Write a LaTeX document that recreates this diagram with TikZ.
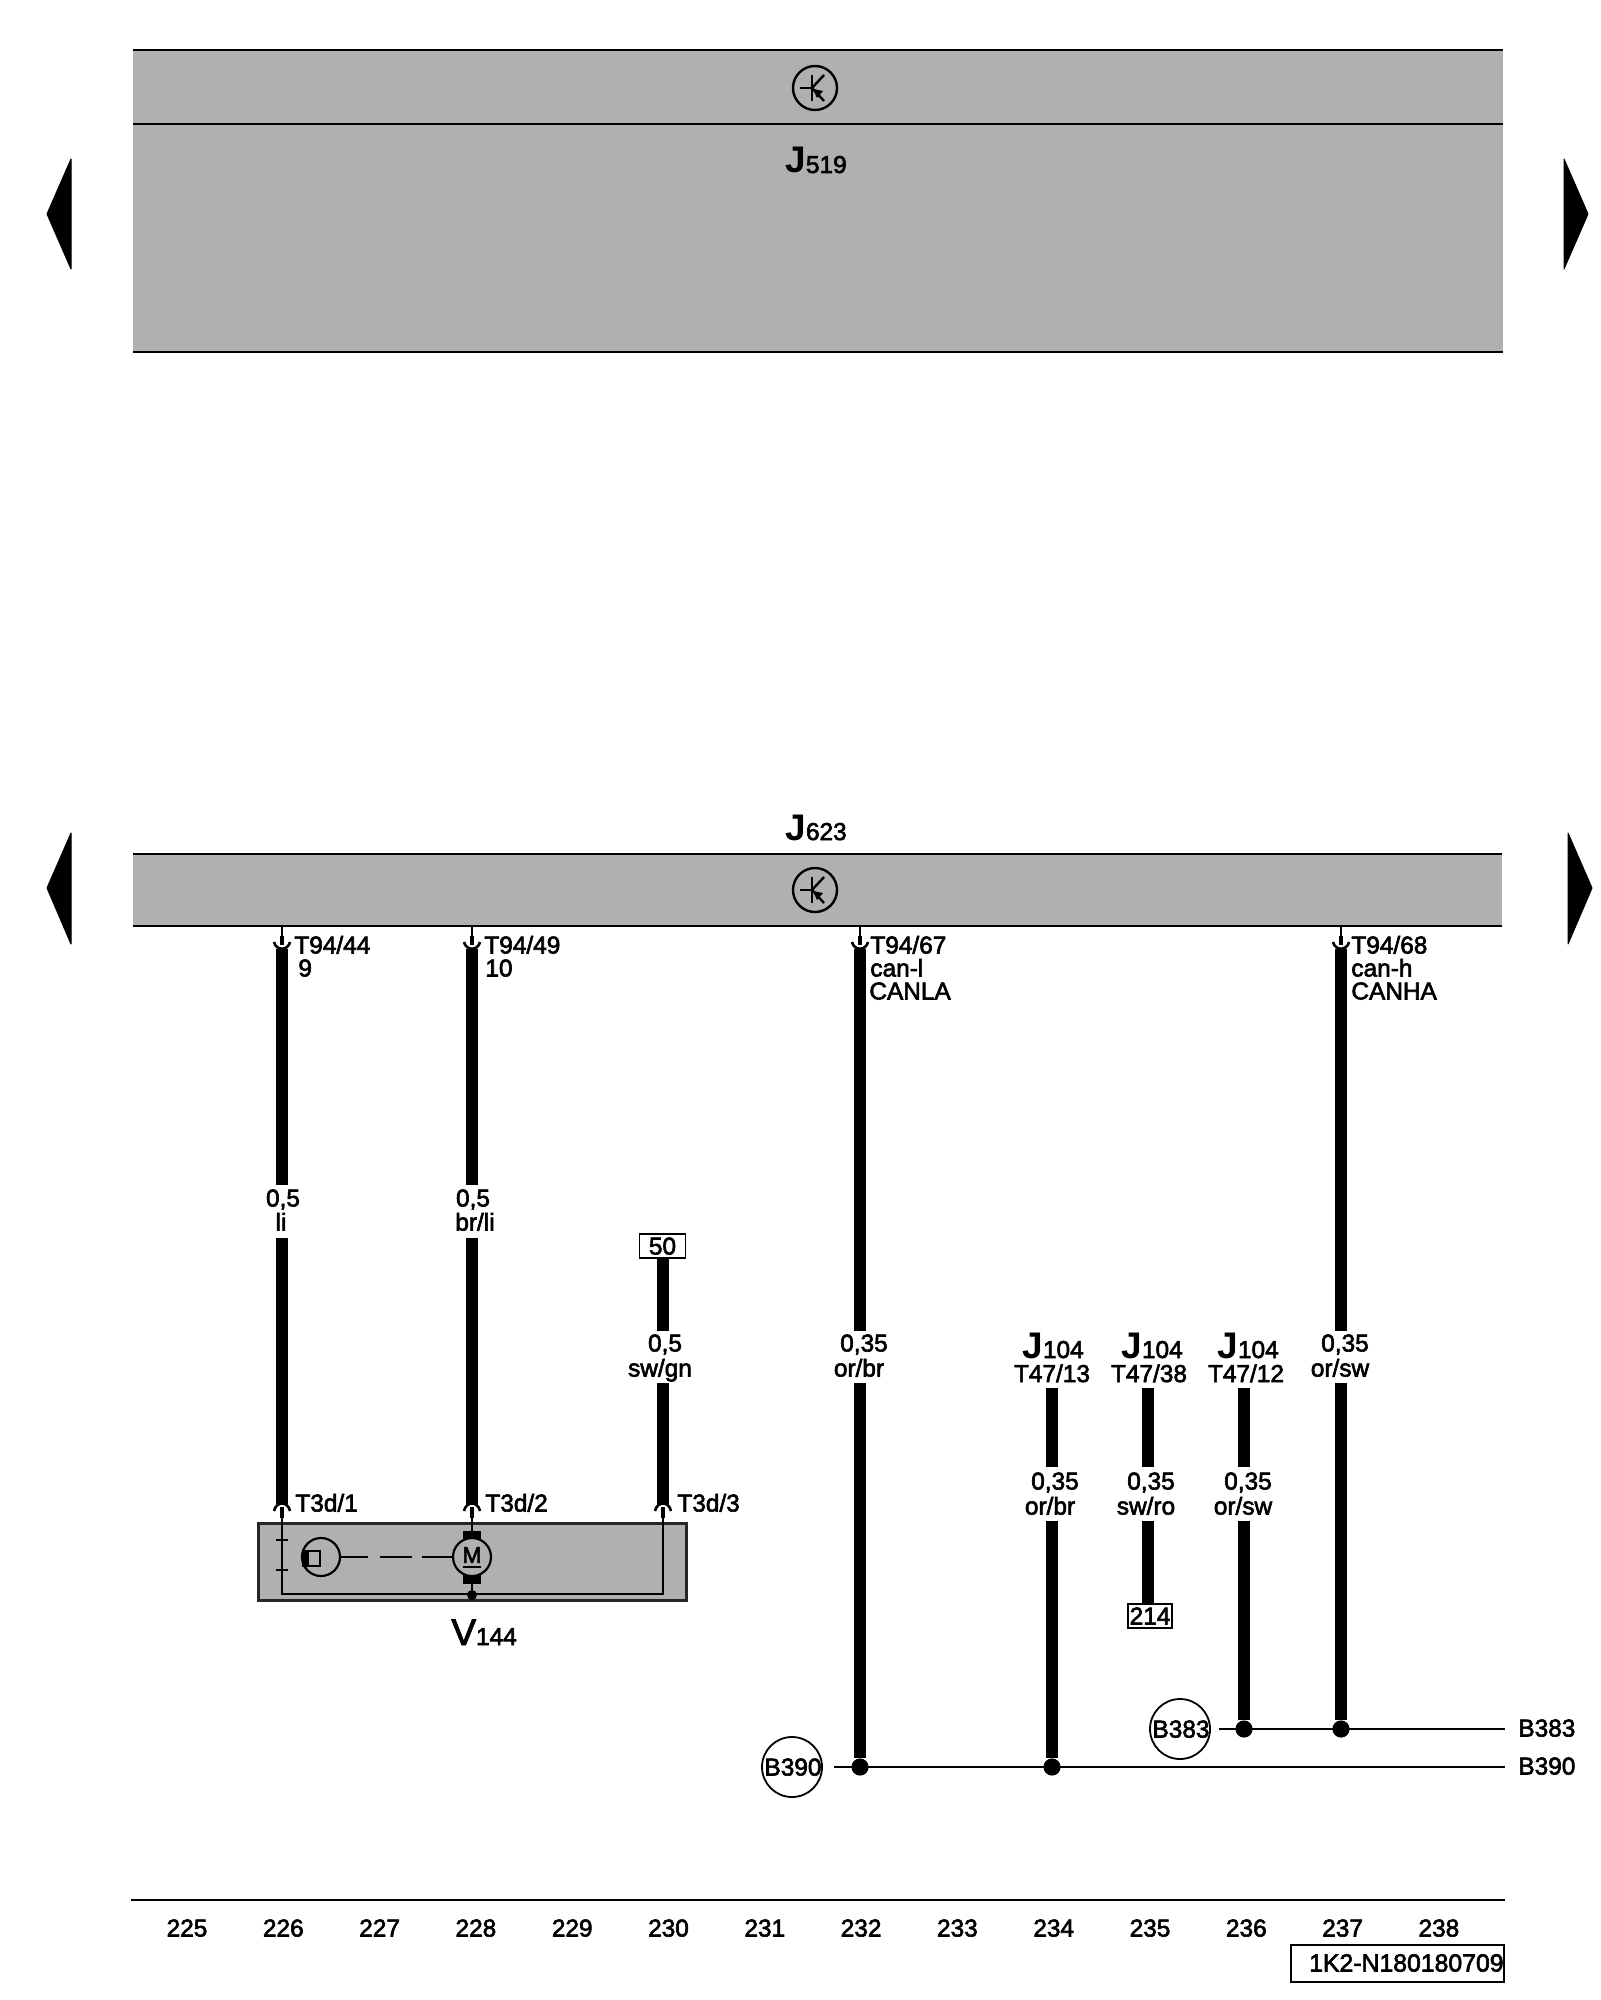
\documentclass[tikz,border=0pt]{standalone}
\usepackage{fontspec}
\setmainfont{Liberation Sans}[FakeBold=2.5,BoldFeatures={FakeBold=0}]
\definecolor{boxgrey}{HTML}{B0B0B0}
\tikzset{
  band/.style={fill=boxgrey,draw=none},
  rule/.style={line width=1.4pt,black},
  wire/.style={line width=6.4pt,black},
  thin/.style={line width=1.3pt,black},
  pin/.style={line width=2pt,black},
  cup/.style={line width=1.3pt,black},
  lab/.style={inner sep=0pt,text height=8.5pt,text depth=0pt,font=\fontsize{12.2}{12.2}\selectfont},
  ref/.style={lab,draw,line width=0.9pt,inner ysep=1.5pt,inner xsep=0pt},
  dotnode/.style={circle,fill=black,inner sep=0pt,minimum size=8.6pt},
  smalldot/.style={circle,fill=black,inner sep=0pt,minimum size=5pt},
  busring/.style={circle,draw,line width=0.9pt,inner sep=0pt,minimum size=30pt},
  ring/.style={circle,draw,line width=1.1pt,inner sep=0pt,minimum size=19pt},
  tips/.style={fill=black,draw=black,line width=0.5pt,line join=round},
  bigname/.style={inner sep=0pt,anchor=base west}
}
\newcommand{\bigsub}[2]{{\fontsize{18.5}{18.5}\selectfont #1}\fontsize{12.2}{12.2}\selectfont #2}
\newcommand{\topcap}[2]{%
  \coordinate (#2u) at (#1,926);
  \coordinate (#2p) at (#1,945);
  \coordinate (#2l) at (#1-8,942);
  \coordinate (#2r) at (#1+8,942);
  \draw[thin] (#2u) -- (#1,936);
  \draw[pin] (#1,936) -- (#2p);
  \draw[cup] (#2l) .. controls (#1-6,951) and (#1+6,951) .. (#2r);
}
\newcommand{\botcap}[2]{%
  \coordinate (#2l) at (#1-8,1511);
  \coordinate (#2r) at (#1+8,1511);
  \draw[cup] (#2l) .. controls (#1-6,1501) and (#1+6,1501) .. (#2r);
  \draw[pin] (#1,1507) -- (#1,1518);
}
\newcommand{\transistor}[3]{%
  \node[circle,draw,line width=1.2pt,inner sep=0pt,minimum size=22pt] (#3) at (#1,#2) {};
  \draw[line width=1.2pt] (#1-15,#2) -- (#1-3,#2);
  \draw[line width=1.2pt] (#1-3,#2-13) -- (#1-3,#2+13);
  \draw[line width=1.2pt] (#1-3,#2) -- (#1+9,#2-13);
  \draw[line width=1.2pt] (#1-3,#2) -- (#1+9,#2+13);
  \fill (#1-2,#2+1) -- (#1+8,#2+3) -- (#1+2,#2+10) -- cycle;
}
\begin{document}
\begin{tikzpicture}[x=0.5pt,y=-0.5pt]
\useasboundingbox (0,0) rectangle (1600,2000);
\fill[white] (0,0) rectangle (1600,2000);
% J519
\fill[band] (133,50) rectangle (1503,352);
\draw[rule] (133,50) -- (1503,50);
\draw[rule] (133,124) -- (1503,124);
\draw[rule] (133,352) -- (1503,352);
\transistor{815}{88}{trA}
\node[bigname] (jA) at (785,173) {\bigsub{\bfseries J}{519}};
% J623
\node[bigname] (jB) at (785,840) {\bigsub{\bfseries J}{623}};
\fill[band] (133,854) rectangle (1502,926);
\draw[rule] (133,854) -- (1502,854);
\draw[rule] (133,926) -- (1502,926);
\transistor{815}{890}{trB}
% page arrows
\fill[tips] (47,214) -- (71,159) -- (71,269) -- cycle;
\fill[tips] (1588,214) -- (1564,159) -- (1564,269) -- cycle;
\fill[tips] (47,888) -- (71,833) -- (71,944) -- cycle;
\fill[tips] (1592,888) -- (1568,833) -- (1568,944) -- cycle;
% V144 box
\node[draw=black!85,line width=1.1pt,fill=boxgrey,inner sep=0pt,minimum width=214pt,minimum height=38.5pt] (vbox) at (472.5,1562) {};
\node[bigname] (vname) at (451,1645) {\bigsub{V}{144}};
% wires to V144
\topcap{282}{a}
\topcap{472}{b}
\topcap{860}{c}
\topcap{1341}{d}
\botcap{282}{e}
\botcap{472}{f}
\botcap{663}{g}
\foreach \x/\t in {282/a,472/b}{
  \draw[wire] (\x,949) -- (\x,1185);
  \draw[wire] (\x,1238) -- (\x,1504);
}
% 0,5 labels
\node[lab,anchor=center] (l1) at (283,1198) {0,5};
\node[lab,anchor=center] (l1b) at (281,1222) {li};
\node[lab,anchor=center] (l2) at (473,1198) {0,5};
\node[lab,anchor=center] (l2b) at (475,1222) {br/li};
% wire 230
\node[ref,minimum width=23pt,minimum height=12pt] (r50) at (662.5,1246) {50};
\draw[wire] (r50.south -| 663,0) -- (663,1331);
\node[lab,anchor=center] (l3) at (665,1343) {0,5};
\node[lab,anchor=center] (l3b) at (660,1368) {sw/gn};
\draw[wire] (663,1383) -- (663,1504);
% wire 232, 237
\node[lab,anchor=center] (l4) at (864,1343) {0,35};
\node[lab,anchor=center] (l4b) at (859,1368) {or/br};
\node[lab,anchor=center] (l5) at (1345,1343) {0,35};
\node[lab,anchor=center] (l5b) at (1340,1368) {or/sw};
% buses
\node[busring] (B390) at (792,1767) {};
\node[lab] (B390t) at (793,1767) {B390};
\node[busring] (B383) at (1180,1729) {};
\node[lab] (B383t) at (1181,1729) {B383};
\coordinate (b390s) at (834,1767);
\coordinate (b383s) at (1219,1729);
\node[lab,anchor=west] (B390r) at (1518,1766) {B390};
\node[lab,anchor=west] (B383r) at (1518,1728) {B383};
\coordinate (b390e) at (1505,1767);
\coordinate (b383e) at (1505,1729);
\draw[thin] (b390s) -- (b390e);
\draw[line width=1.45pt] (1222,1767) -- (b390e);
\draw[thin] (b383s) -- (b383e);
\node[dotnode] (n1) at (860,1767) {};
\node[dotnode] (n2) at (1052,1767) {};
\node[dotnode] (n3) at (1244,1729) {};
\node[dotnode] (n4) at (1341,1729) {};
\draw[wire] (860,949) -- (860,1331);
\draw[wire] (860,1383) -- (n1);
\draw[wire] (1341,949) -- (1341,1331);
\draw[wire] (1341,1383) -- (n4);
% J104 wires
\node[bigname] (j1) at (1022,1358) {\bigsub{\bfseries J}{104}};
\node[bigname] (j2) at (1121,1358) {\bigsub{\bfseries J}{104}};
\node[bigname] (j3) at (1217,1358) {\bigsub{\bfseries J}{104}};
\node[lab] (p1) at (1052,1373.5) {T47/13};
\node[lab] (p2) at (1149,1373.5) {T47/38};
\node[lab] (p3) at (1246,1373.5) {T47/12};
\draw[wire] (1052,1388) -- (1052,1467);
\draw[wire] (1148,1388) -- (1148,1467);
\draw[wire] (1244,1388) -- (1244,1467);
\node[lab] (q1) at (1055,1481) {0,35};
\node[lab] (q2) at (1151,1481) {0,35};
\node[lab] (q3) at (1248,1481) {0,35};
\node[lab] (q1b) at (1050,1506) {or/br};
\node[lab] (q2b) at (1146,1506) {sw/ro};
\node[lab] (q3b) at (1243,1506) {or/sw};
\draw[wire] (1052,1521) -- (n2);
\draw[wire] (1244,1521) -- (n3);
\node[ref,minimum width=22pt,minimum height=12pt] (r214) at (1150,1616) {214};
\draw[wire] (1148,1521) -- (1148,1604);
% connector names
\node[lab,anchor=west] (ta1) at (294,945) {T94/44};
\node[lab,anchor=west] (ta2) at (298,968) {9};
\node[lab,anchor=west] (tb1) at (484,945) {T94/49};
\node[lab,anchor=west] (tb2) at (485,968) {10};
\node[lab,anchor=west] (tc1) at (870,945) {T94/67};
\node[lab,anchor=west] (tc2) at (870,968) {can-l};
\node[lab,anchor=west] (tc3) at (869,991) {CANLA};
\node[lab,anchor=west] (td1) at (1351,945) {T94/68};
\node[lab,anchor=west] (td2) at (1351,968) {can-h};
\node[lab,anchor=west] (td3) at (1351,991) {CANHA};
\node[lab,anchor=west] (se1) at (295,1503) {T3d/1};
\node[lab,anchor=west] (sf1) at (485,1503) {T3d/2};
\node[lab,anchor=west] (sg1) at (677,1503) {T3d/3};
% V144 inside
\node[ring] (enc) at (321,1557) {};
\node[ring] (mot) at (472,1557) {};
\draw[line width=1.1pt] (282,1518) -- (282,1594) -- (663,1594) -- (663,1518);
\draw[line width=1.1pt] (276,1540) -- (288,1540);
\draw[line width=1.1pt] (276,1570) -- (288,1570);
\fill (302,1550) rectangle (309,1567);
\draw[line width=1.3pt] (308,1551) rectangle (320,1566);
\draw[line width=1.1pt] (enc.east) -- (368,1557);
\draw[line width=1.1pt] (380,1557) -- (412,1557);
\draw[line width=1.1pt] (422,1557) -- (mot.west);
\node[inner sep=0pt,font=\fontsize{11.5}{11.5}\selectfont] (mtxt) at (472,1555) {M};
\draw[line width=1.1pt] (463,1567) -- (481,1567);
\fill (463,1531) rectangle (481,1539);
\fill (463,1575) rectangle (481,1584);
\draw[line width=1.1pt] (472,1518) -- (472,1531);
\node[smalldot] (mdot) at (472,1595) {};
\draw[line width=1.1pt] (472,1584) -- (mdot);
% ruler
\coordinate (ra) at (131,1900);
\coordinate (rb) at (1505,1900);
\draw[rule] (ra) -- (rb);
\foreach \n [count=\i from 0] in {225,...,238}{
  \node[lab] (col\n) at ({187+96.3*\i},1928) {\n};
}
\node[draw,line width=1pt,minimum width=106.5pt,minimum height=18.5pt,inner sep=0pt] (codebox) at (1397.5,1963.5) {};
\node[lab,anchor=east,font=\fontsize{12.4}{12.4}\selectfont] (code) at (1504,1963) {1K2-N180180709};
\end{tikzpicture}
\end{document}
